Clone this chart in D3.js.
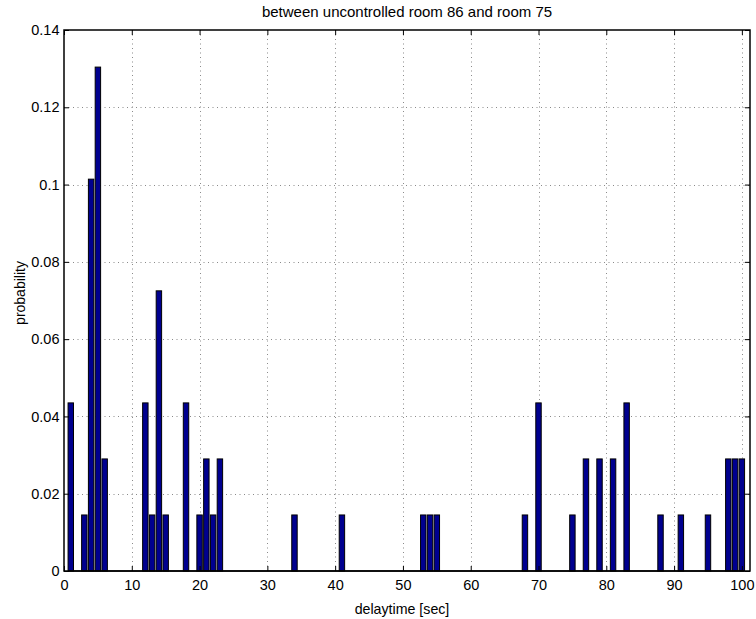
<!DOCTYPE html>
<html>
<head>
<meta charset="utf-8">
<script src="https://cdn.jsdelivr.net/npm/d3@7/dist/d3.min.js"></script>
<style>
  html, body { margin: 0; padding: 0; background: #fff; }
  svg { display: block; font-family: "Liberation Sans", Arial, Helvetica, sans-serif; }
</style>
</head>
<body>
<svg id="chart" width="756" height="619"></svg>
<script>
// Delay-time histogram: bin centres (sec) and probability of each bin
const delays = [1, 3, 4, 5, 6, 12, 13, 14, 15, 18, 20, 21, 22, 23, 34, 41, 53, 54, 55,
                68, 70, 75, 77, 79, 81, 83, 88, 91, 95, 98, 99, 100];
const probabilities = [0.0435, 0.0145, 0.1014, 0.1304, 0.0290, 0.0435, 0.0145, 0.0725, 0.0145,
                       0.0435, 0.0145, 0.0290, 0.0145, 0.0290, 0.0145, 0.0145, 0.0145, 0.0145,
                       0.0145, 0.0145, 0.0435, 0.0145, 0.0290, 0.0290, 0.0290, 0.0435, 0.0145,
                       0.0145, 0.0145, 0.0290, 0.0290, 0.0290];
const xTicks = [0, 10, 20, 30, 40, 50, 60, 70, 80, 90, 100];
const yTicks = [0, 0.02, 0.04, 0.06, 0.08, 0.1, 0.12, 0.14];
const xDomain = [0, 101.2];
const yDomain = [0, 0.14];
const barWidth = 0.8;

const titleText = "between uncontrolled room 86 and room 75";
const xLabelText = "delaytime [sec]";
const yLabelText = "probability";

const plotLeft = 64, plotRight = 750, plotTop = 30, plotBottom = 571;

const svg = d3.select("#chart");
const x = d3.scaleLinear().domain(xDomain).range([plotLeft, plotRight]);
const y = d3.scaleLinear().domain(yDomain).range([plotBottom, plotTop]);

// dotted grid
const grid = svg.append("g").attr("stroke", "#8a8a8a").attr("stroke-width", 1)
  .attr("stroke-dasharray", "1,3.5");
grid.selectAll("line.gx").data(xTicks.filter(t => t > 0)).join("line")
  .attr("x1", d => Math.round(x(d)) + 0.5).attr("x2", d => Math.round(x(d)) + 0.5)
  .attr("y1", plotTop).attr("y2", plotBottom);
grid.selectAll("line.gy").data(yTicks.filter(t => t > 0 && t < 0.14)).join("line")
  .attr("y1", d => Math.round(y(d)) + 0.5).attr("y2", d => Math.round(y(d)) + 0.5)
  .attr("x1", plotLeft).attr("x2", plotRight);

// bars
svg.append("g").selectAll("rect").data(delays).join("rect")
  .attr("x", (d) => x(d - barWidth / 2))
  .attr("width", (d) => x(d + barWidth / 2) - x(d - barWidth / 2))
  .attr("y", (d, i) => y(probabilities[i]))
  .attr("height", (d, i) => y(0) - y(probabilities[i]))
  .attr("fill", "#00008f")
  .attr("stroke", "#000")
  .attr("stroke-width", 1);

// bar baseline (empty bins)
svg.append("line")
  .attr("x1", x(0.6)).attr("x2", x(100.4))
  .attr("y1", y(0)).attr("y2", y(0))
  .attr("stroke", "#000").attr("stroke-width", 1.5);

// axes with inward ticks on all four sides
const tickLen = 5;
const fmtY = d => d === 0 ? "0" : d3.format(".2~f")(d);

const xAxisB = d3.axisBottom(x).tickValues(xTicks).tickSize(-tickLen).tickPadding(9).tickFormat(d3.format("d"));
const xAxisT = d3.axisTop(x).tickValues(xTicks).tickSize(-tickLen).tickFormat("");
const yAxisL = d3.axisLeft(y).tickValues(yTicks).tickSize(-tickLen).tickPadding(4.5).tickFormat(fmtY);
const yAxisR = d3.axisRight(y).tickValues(yTicks).tickSize(-tickLen).tickFormat("");

function styleAxis(g) {
  g.select(".domain").remove();
  g.selectAll(".tick line").attr("stroke", "#000");
  g.selectAll(".tick text").attr("fill", "#000").style("font-size", "14.5px")
    .style("font-family", "'Liberation Sans', Arial, Helvetica, sans-serif");
}
svg.append("g").attr("transform", `translate(0,${plotBottom})`).call(xAxisB).call(styleAxis);
svg.append("g").attr("transform", `translate(0,${plotTop})`).call(xAxisT).call(styleAxis);
svg.append("g").attr("transform", `translate(${plotLeft},0)`).call(yAxisL).call(styleAxis);
svg.append("g").attr("transform", `translate(${plotRight},0)`).call(yAxisR).call(styleAxis);

// plot box
svg.append("rect")
  .attr("x", plotLeft).attr("y", plotTop)
  .attr("width", plotRight - plotLeft).attr("height", plotBottom - plotTop)
  .attr("fill", "none").attr("stroke", "#000").attr("stroke-width", 1.5);

// title and axis labels
svg.append("text").attr("x", 407).attr("y", 17)
  .attr("text-anchor", "middle").style("font-size", "15px").text(titleText);
svg.append("text").attr("x", 402).attr("y", 614)
  .attr("text-anchor", "middle").style("font-size", "14.2px").text(xLabelText);
svg.append("text").attr("transform", "translate(25,293) rotate(-90)")
  .attr("text-anchor", "middle").style("font-size", "14px").text(yLabelText);
</script>
</body>
</html>
